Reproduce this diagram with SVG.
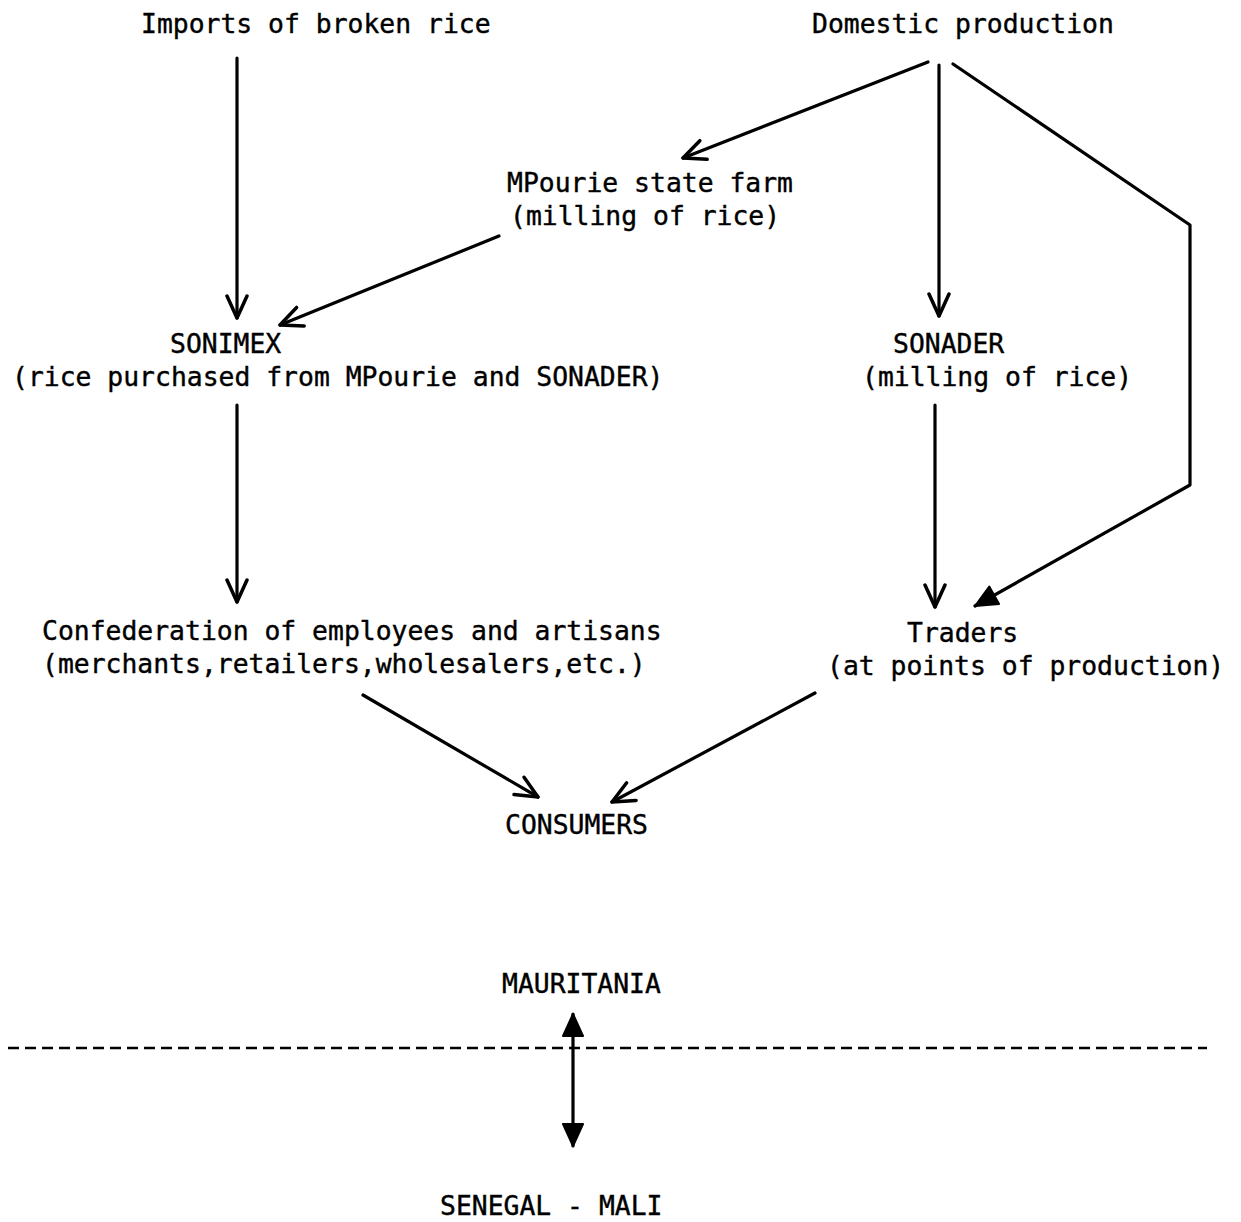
<svg xmlns="http://www.w3.org/2000/svg" width="1241" height="1222" viewBox="0 0 1241 1222">
<style>
text{font-family:"DejaVu Sans Mono","Liberation Mono",monospace;font-size:26.4px;fill:#000;stroke:#000;stroke-width:0.4}
.c{fill:none;stroke:#000;stroke-width:3.2;stroke-linecap:round;stroke-linejoin:round}
.d{fill:none;stroke:#000;stroke-width:2.5;stroke-dasharray:11 6}
</style>
<defs>
<marker id="v" markerUnits="userSpaceOnUse" markerWidth="30" markerHeight="30" refX="24" refY="12" orient="auto" viewBox="0 0 30 24">
<path d="M2,2 L24,12 L2,22" fill="none" stroke="#000" stroke-width="3.5" stroke-linecap="round" stroke-linejoin="round"/>
</marker>
<marker id="f" markerUnits="userSpaceOnUse" markerWidth="30" markerHeight="30" refX="24" refY="12" orient="auto" viewBox="0 0 30 24">
<path d="M2,2 L24,12 L2,22 Z" fill="#000" stroke="#000" stroke-width="2" stroke-linejoin="round"/>
</marker>
<marker id="fs" markerUnits="userSpaceOnUse" markerWidth="30" markerHeight="30" refX="24" refY="12" orient="auto-start-reverse" viewBox="0 0 30 24">
<path d="M2,2 L24,12 L2,22 Z" fill="#000" stroke="#000" stroke-width="2" stroke-linejoin="round"/>
</marker>
</defs>
<g id="imports"><text x="141" y="33">Imports of broken rice</text></g>
<g id="domestic"><text x="812" y="33">Domestic production</text></g>
<g id="mpourie"><text x="507" y="192">MPourie state farm</text><text x="510" y="225">(milling of rice)</text></g>
<g id="sonimex"><text x="170" y="353">SONIMEX</text><text x="12" y="386">(rice purchased from MPourie and SONADER)</text></g>
<g id="sonader"><text x="893" y="353">SONADER</text><text x="862" y="386">(milling of rice)</text></g>
<g id="confederation"><text x="42" y="640">Confederation of employees and artisans</text><text x="42" y="673">(merchants,retailers,wholesalers,etc.)</text></g>
<g id="traders"><text x="907" y="642">Traders</text><text x="827" y="675">(at points of production)</text></g>
<g id="consumers"><text x="505" y="834">CONSUMERS</text></g>
<g id="mauritania"><text x="502" y="993">MAURITANIA</text></g>
<g id="senegal"><text x="440" y="1215">SENEGAL - MALI</text></g>
<g id="connectors">
<path class="c" d="M237,58 L237,318" marker-end="url(#v)"/>
<path class="c" d="M928,62 L683,158" marker-end="url(#v)"/>
<path class="c" d="M939,65 L939,316" marker-end="url(#v)"/>
<path class="c" d="M953,64 L1190,225 L1190,485 L975,606" marker-end="url(#f)"/>
<path class="c" d="M499,236 L280,325" marker-end="url(#v)"/>
<path class="c" d="M237,405 L237,602" marker-end="url(#v)"/>
<path class="c" d="M935,405 L935,607" marker-end="url(#v)"/>
<path class="c" d="M363,695 L538,797" marker-end="url(#v)"/>
<path class="c" d="M815,693 L612,802" marker-end="url(#v)"/>
<path class="d" d="M8,1048 L1207,1048"/>
<path class="c" d="M573,1014 L573,1146" marker-start="url(#fs)" marker-end="url(#fs)"/>
</g>
</svg>
